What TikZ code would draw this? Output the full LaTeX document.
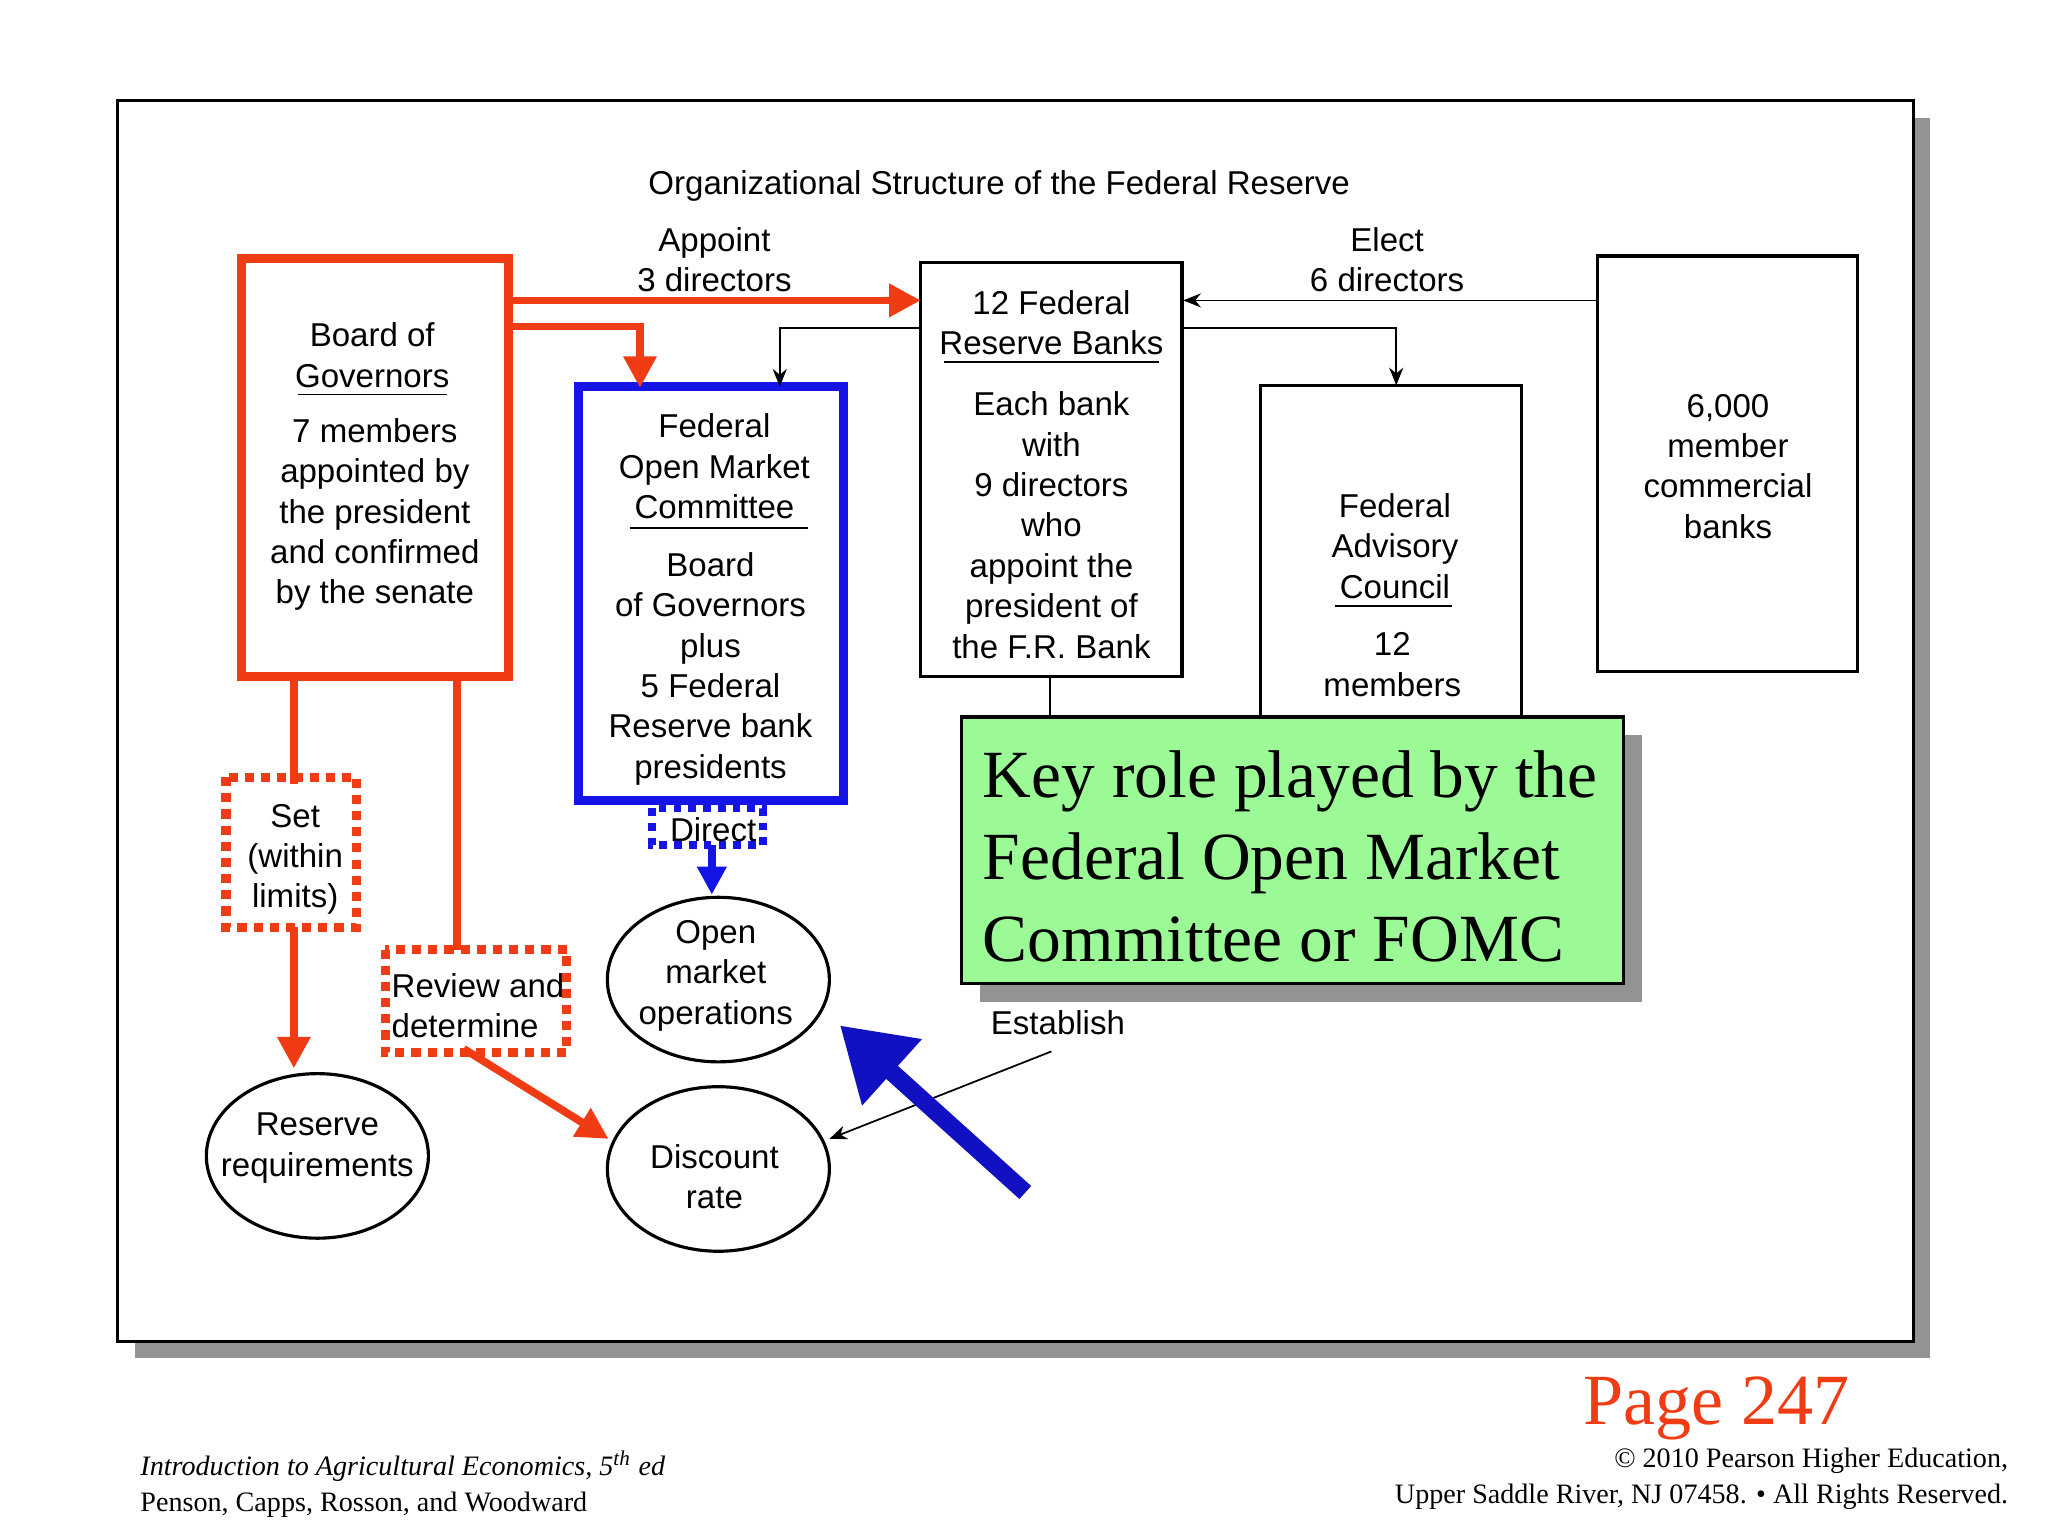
\documentclass[tikz,border=0pt]{standalone}
\usepackage{fontspec}
\setmainfont{Liberation Sans}
\newfontfamily\tms{Liberation Serif}
\usetikzlibrary{arrows.meta,shapes.geometric}
\definecolor{rred}{RGB}{240,60,20}
\definecolor{bblue}{RGB}{20,20,230}
\definecolor{ggreen}{RGB}{155,250,150}
\begin{document}
\begin{tikzpicture}[x=0.013061cm,y=-0.013061cm,
 txt/.style={font=\fontsize{9.4}{11.5}\selectfont,align=center,inner sep=0},
 box/.style={draw,line width=0.9pt},
 rbox/.style={draw=rred,line width=2.6pt},
 thin/.style={line width=0.5pt,-{Stealth[length=5pt,width=4pt]}},
 red/.style={draw=rred,line width=2.2pt},
]
\useasboundingbox (0,0) rectangle (1568,1176);
\fill[white] (0,0) rectangle (1568,1176);
\fill[gray!85] (103,90) rectangle (1478,1040);
\draw[fill=white,line width=0.9pt] (90,77) rectangle (1465,1027);
\node[txt] (title) at (765,142) {Organizational Structure of the Federal Reserve};
% boxes
\draw[rbox] (185,198) rectangle (389,518);
\node[txt] (bg1) at (285,272) {Board of\\Governors};
\draw[line width=0.5pt] (228,302)--(342,302);
\node[txt] (bg2) at (287,394) {7 members\\appointed by\\the president\\and confirmed\\by the senate};
\draw[draw=bblue,line width=2.6pt] (443,296) rectangle (646,613);
\node[txt] (fo1) at (547,357) {Federal\\Open Market\\Committee};
\draw[line width=0.5pt] (482,404)--(619,404);
\node[txt] (fo2) at (544,512) {Board\\of Governors\\plus\\5 Federal\\Reserve bank\\presidents};
\draw[box] (705,201) rectangle (905,518);
\node[txt] (fr1) at (805,247) {12 Federal\\Reserve Banks};
\draw[line width=0.5pt] (723,277)--(887,277);
\node[txt] (fr2) at (805,402) {Each bank\\with\\9 directors\\who\\appoint the\\president of\\the F.R. Bank};
\draw[box] (965,550)--(965,295)--(1165,295)--(1165,550);
\node[txt] (fa1) at (1068,418) {Federal\\Advisory\\Council};
\draw[line width=0.5pt] (1022,464)--(1112,464);
\node[txt] (fa2) at (1066,509) {12\\members};
\draw[box] (1223,196) rectangle (1422,514);
\node[txt] (mb) at (1323,357) {6,000\\member\\commercial\\banks};
% ellipses
\draw[line width=0.9pt] (550,750) ellipse (85 and 63);
\node[txt] (om) at (548,747) {Open\\market\\operations};
\draw[line width=0.9pt] (550,895) ellipse (85 and 63);
\node[txt] (dr) at (547,901) {Discount\\rate};
\draw[line width=0.9pt] (243,885) ellipse (85 and 63);
\node[txt] (rr) at (243,879) {Reserve\\requirements};
% top connectors
\node[txt] at (547,199) {Appoint\\3 directors};
\node[txt] at (1062,199) {Elect\\6 directors};
\draw[red,-{Triangle[length=9pt,width=9pt]}] (389,230)--(705,230);
\draw[red,-{Triangle[length=9pt,width=9pt]}] (389,250)--(490,250)--(490,297);
\draw[thin] (705,251)--(597,251)--(597,296);
\draw[thin] (905,251)--(1069,251)--(1069,295);
\draw[thin] (1223,230)--(906,230);
% left connectors
\draw[red] (225,518)--(225,600);
\draw[red,-{Triangle[length=9pt,width=9pt]}] (225,710)--(225,818);
\draw[red] (350,520)--(350,727);
\draw[red,-{Triangle[length=9pt,width=9pt]}] (355,803)--(466,872);
\draw[draw=rred,line width=2.6pt,dotted] (173,595) rectangle (273,710);
\node[txt] at (226,658) {Set\\(within\\limits)};
\draw[draw=rred,line width=2.6pt,dotted] (295,727) rectangle (434,806);
\node[txt,align=left] at (366,770) {Review and\\determine};
\draw[draw=bblue,line width=2.2pt,dotted] (499,619) rectangle (584,647);
\node[txt] at (546,635) {Direct};
\draw[draw=bblue,line width=2.4pt,-{Triangle[length=8pt,width=8pt]}] (545,647)--(545,685);
% establish
\draw[line width=0.5pt] (804,518)--(804,549);
\node[txt] at (810,783) {Establish};
\draw[thin] (805,805)--(635,872);
% big blue arrow
\draw[draw=bblue!85!black,line width=5pt,-{Triangle[length=20pt,width=24pt]}] (785,913)--(643,785);
% green box
\fill[gray!85] (750,563) rectangle (1257,767);
\draw[fill=ggreen,line width=0.9pt] (736,549) rectangle (1243,753);
\node[font=\tms\fontsize{19.2}{23.4}\selectfont,align=left,anchor=north west,inner sep=0] at (752,574) {Key role played by the\\Federal Open Market\\Committee or FOMC};
% footer
\node[font=\tms\fontsize{20.5}{24}\selectfont,text=rred,inner sep=0] at (1314,1078) {Page 247};
\node[font=\tms\fontsize{8}{10.4}\selectfont,align=right,anchor=north east,inner sep=0] at (1538,1108) {© 2010 Pearson Higher Education,\\Upper Saddle River, NJ 07458. • All Rights Reserved.};
\node[font=\tms\fontsize{8}{10.4}\selectfont,align=left,anchor=north west,inner sep=0] at (107,1110) {\textit{Introduction to Agricultural Economics, 5\textsuperscript{th} ed}\\Penson, Capps, Rosson, and Woodward};
\end{tikzpicture}
\end{document}
